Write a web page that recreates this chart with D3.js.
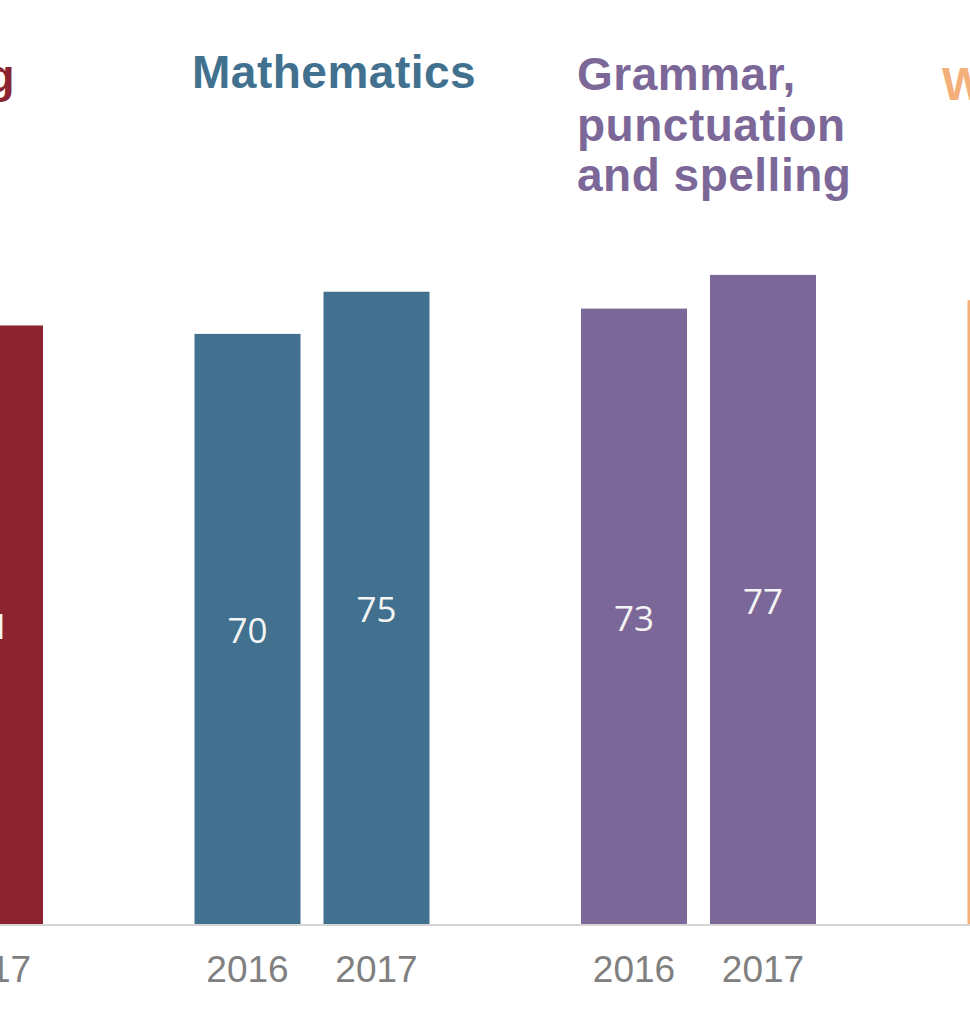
<!DOCTYPE html>
<html>
<head>
<meta charset="utf-8">
<script src="https://cdn.jsdelivr.net/npm/d3@7"></script>
<style>
  html, body { margin: 0; padding: 0; background: #ffffff; overflow: hidden; }
  svg { display: block; }
</style>
</head>
<body>
<svg id="chart" width="970" height="1024"></svg>
<script>
// ---- data ----
const subjects = ["Reading", "Mathematics", "Grammar, punctuation and spelling", "Writing"];
const years = ["2016", "2017"];
const values2016 = [66, 70, 73, 74];
const values2017 = [71, 75, 77, 76];
const titleLines = [["Reading"], ["Mathematics"], ["Grammar,", "punctuation", "and spelling"], ["Writing"]];
const colors = ["#8B2430", "#41718F", "#7C6898", "#F4B07A"];

// ---- layout ----
const W = 970, H = 1024;
const baseline = 924;
const svg = d3.select("#chart");

const y = d3.scaleLinear().domain([0, 100]).range([baseline, 81]);
const x0 = d3.scaleBand().domain(subjects).range([-192, -192 + 4 * 386.5]);
const x1 = d3.scaleBand().domain(years).range([0, 235]).paddingInner(23 / 129);

// title placement (relative to group start) and baselines
const titleLayout = [
  { dx: 207, anchor: "end", y: 92 },
  { dx: -2.5, anchor: "start", y: 88 },
  { dx: -4, anchor: "start", y: 90 },
  { dx: -25.5, anchor: "start", y: 100 }
];

const rows = [];
subjects.forEach((s, i) => {
  rows.push({ subject: s, year: "2016", value: values2016[i], color: colors[i] });
  rows.push({ subject: s, year: "2017", value: values2017[i], color: colors[i] });
});

// axis baseline
svg.append("line")
  .attr("x1", 0).attr("x2", W)
  .attr("y1", baseline + 1).attr("y2", baseline + 1)
  .attr("stroke", "#d6d6d6").attr("stroke-width", 2);

// bars
svg.append("g").selectAll("rect").data(rows).join("rect")
  .attr("x", d => x0(d.subject) + x1(d.year))
  .attr("y", d => y(d.value))
  .attr("width", x1.bandwidth())
  .attr("height", d => y(0) - y(d.value))
  .attr("fill", d => d.color);

// value labels (centered vertically in bar)
svg.append("g").selectAll("text").data(rows).join("text")
  .attr("x", d => x0(d.subject) + x1(d.year) + x1.bandwidth() / 2)
  .attr("y", d => (y(d.value) + y(0)) / 2 + 1)
  .attr("text-anchor", "middle")
  .attr("dominant-baseline", "central")
  .attr("font-family", "'Open Sans', sans-serif")
  .attr("font-size", 35)
  .attr("fill", "#f4f4f4")
  .text(d => d.value);

// year labels
svg.append("g").selectAll("text").data(rows).join("text")
  .attr("x", d => x0(d.subject) + x1(d.year) + x1.bandwidth() / 2)
  .attr("y", 982)
  .attr("text-anchor", "middle")
  .attr("font-family", "'Liberation Sans', Arial, sans-serif")
  .attr("font-size", 37)
  .attr("fill", "#808080")
  .text(d => d.year);

// subject titles
subjects.forEach((s, i) => {
  const L = titleLayout[i];
  const t = svg.append("text")
    .attr("x", x0(s) + L.dx)
    .attr("y", L.y)
    .attr("text-anchor", L.anchor)
    .attr("font-family", "'Liberation Sans', Arial, sans-serif")
    .attr("font-weight", "bold")
    .attr("font-size", 46)
    .attr("letter-spacing", "0.5px")
    .attr("fill", colors[i]);
  titleLines[i].forEach((ln, j) => {
    t.append("tspan")
      .attr("x", x0(s) + L.dx)
      .attr("y", L.y + j * 50.5)
      .text(ln);
  });
});
</script>
</body>
</html>
